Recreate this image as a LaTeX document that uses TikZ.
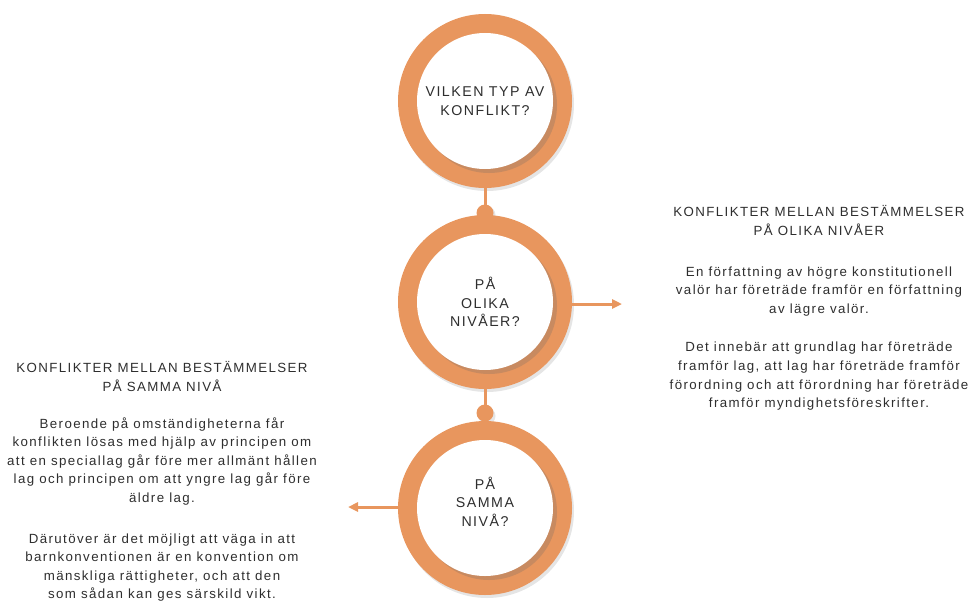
\documentclass[tikz,border=0pt]{standalone}
\usepackage{fontspec}
\setmainfont{Liberation Sans}[LetterSpace=10.5]
\usetikzlibrary{arrows.meta}
\definecolor{ring}{HTML}{E8965E}
\definecolor{ringdark}{HTML}{C88A60}
\definecolor{txt}{HTML}{2E2E2E}
\begin{document}
\begin{tikzpicture}[x=1pt,y=-1pt,
  ringnode/.style={circle, minimum size=174pt, inner sep=0pt, fill=ring,
    font=\fontsize{14.2}{18.5}\selectfont, text=txt, align=center,
    path picture={
      \fill[ringdark] ([shift={(4pt,-4pt)}]path picture bounding box.center) circle (68pt);
      \fill[white] (path picture bounding box.center) circle (68pt);
    }},
  dotnode/.style={circle, minimum size=17pt, inner sep=0pt, fill=ring},
  conn/.style={draw=ring, line width=3pt},
  arrowconn/.style={conn, -{Triangle[length=10pt,width=9pt]}},
  infotext/.style={inner sep=0pt, align=center, text=txt,
    font=\fontsize{13.3}{18.6}\selectfont},
  softshadow/.style={fill=black, opacity=0.10}
]
\useasboundingbox (0,0) rectangle (976,602);
% soft shadows
\fill[softshadow] (487,104) circle (87);
\fill[softshadow] (487,305) circle (87);
\fill[softshadow] (487,511) circle (87);
\fill[softshadow] (487,215) circle (8.5);
\fill[softshadow] (487,416) circle (8.5);
% rings
\node[ringnode] (c1) at (485,101) {VILKEN TYP AV\\KONFLIKT?};
\node[ringnode] (c2) at (485,302) {PÅ\\OLIKA\\NIVÅER?};
\node[ringnode, text depth=13pt] (c3) at (485,508) {PÅ\\SAMMA\\NIVÅ?};
% dots
\node[dotnode] (d1) at (485,213) {};
\node[dotnode] (d2) at (485,413) {};
% connectors
\draw[conn] (c1.south) -- (d1.center);
\draw[conn] (c2.south) -- (d2.center);
\coordinate (a2) at (622,304);
\coordinate (a3) at (348,507);
\draw[arrowconn] (c2.east |- a2) -- (a2);
\draw[arrowconn] (c3.west |- a3) -- (a3);
% texts
\node[infotext, anchor=north] (t1) at (819,205.5) {KONFLIKTER MELLAN BESTÄMMELSER\\PÅ OLIKA NIVÅER\\[22pt]
En författning av högre konstitutionell\\valör har företräde framför en författning\\av lägre valör.\\[20pt]
Det innebär att grundlag har företräde\\framför lag, att lag har företräde framför\\förordning och att förordning har företräde\\framför myndighetsföreskrifter.};
\node[infotext, anchor=north] (t2) at (162,361.5) {KONFLIKTER MELLAN BESTÄMMELSER\\PÅ SAMMA NIVÅ\\[18pt]
Beroende på omständigheterna får\\konflikten lösas med hjälp av principen om\\att en speciallag går före mer allmänt hållen\\lag och principen om att yngre lag går före\\äldre lag.\\[22pt]
Därutöver är det möjligt att väga in att\\barnkonventionen är en konvention om\\mänskliga rättigheter, och att den\\som sådan kan ges särskild vikt.};
\end{tikzpicture}
\end{document}
